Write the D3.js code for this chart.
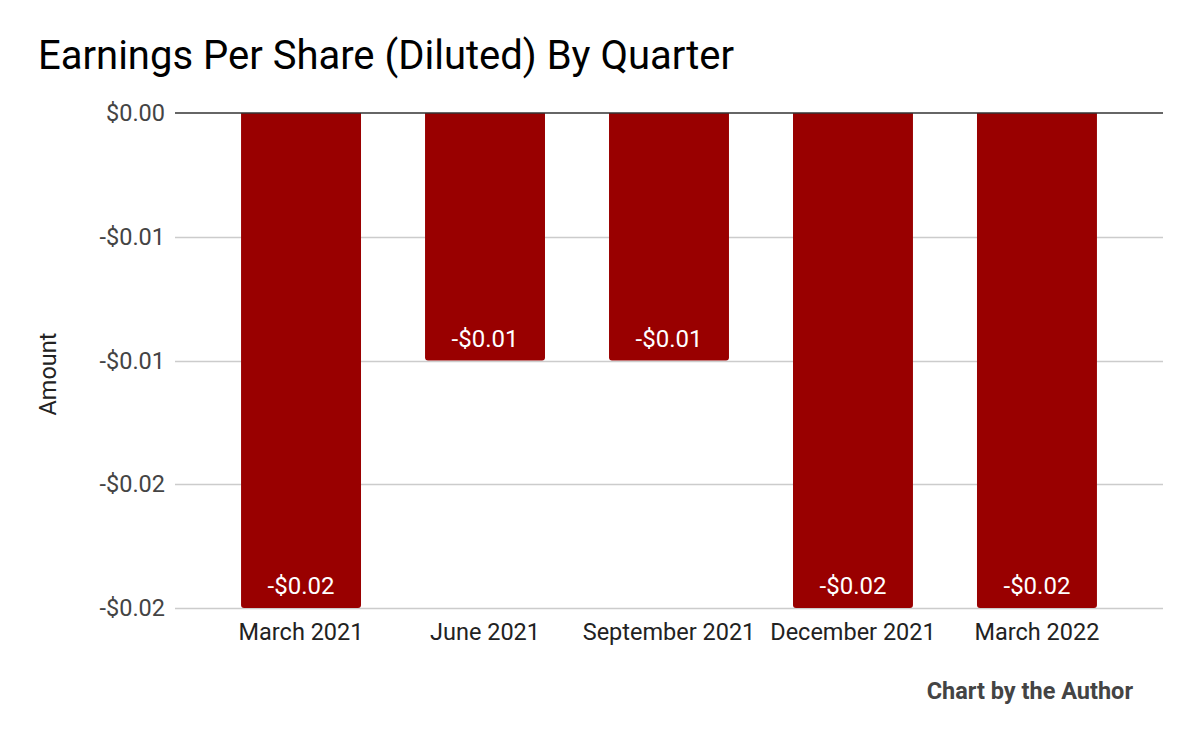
<!DOCTYPE html>
<html><head><meta charset="utf-8">
<script src="https://cdn.jsdelivr.net/npm/d3@7"></script>
<style>body{margin:0;background:#fff}svg{display:block}text{font-family:Roboto,sans-serif}</style>
</head><body>
<svg id="c" width="1200" height="742"></svg>
<script>
const categories = ["March 2021","June 2021","September 2021","December 2021","March 2022"];
const values = [-0.02,-0.01,-0.01,-0.02,-0.02];
const tickValues = [0,-0.005,-0.01,-0.015,-0.02];
const tickLabels = ["$0.00","-$0.01","-$0.01","-$0.02","-$0.02"];
const barLabels = ["-$0.02","-$0.01","-$0.01","-$0.02","-$0.02"];

const svg = d3.select("#c");
const L = 175, R = 1163, T = 113, B = 608;
const x = d3.scaleBand().domain(categories).range([L,R]).paddingInner(0.348).paddingOuter(0.359);
const y = d3.scaleLinear().domain([0,-0.02]).range([T,B]);

svg.append("text").attr("x",38).attr("y",69).attr("font-size",40).attr("fill","#000")
  .text("Earnings Per Share (Diluted) By Quarter");

// grid
svg.append("g").selectAll("line").data(tickValues.slice(1)).join("line")
  .attr("x1",L).attr("x2",R).attr("y1",d=>Math.round(y(d))+0.5).attr("y2",d=>Math.round(y(d))+0.5)
  .attr("stroke","#cccccc").attr("stroke-width",1.5);

// y labels
svg.append("g").selectAll("text").data(tickValues).join("text")
  .attr("x",165).attr("y",d=>y(d)+8).attr("text-anchor","end").attr("font-size",23.5).attr("fill","#444")
  .text((d,i)=>tickLabels[i]);

// bars with rounded bottom corners
const r = 3;
svg.append("g").selectAll("path").data(values).join("path")
  .attr("fill","#990000")
  .attr("d",(d,i)=>{
    const x0 = x(categories[i]), w = x.bandwidth(), y0 = y(0), y1 = y(d);
    return `M${x0},${y0}H${x0+w}V${y1-r}Q${x0+w},${y1} ${x0+w-r},${y1}H${x0+r}Q${x0},${y1} ${x0},${y1-r}Z`;
  });

// bar labels
svg.append("g").selectAll("text").data(values).join("text")
  .attr("x",(d,i)=>x(categories[i])+x.bandwidth()/2).attr("y",d=>y(d)-14)
  .attr("text-anchor","middle").attr("font-size",24).attr("fill","#fff")
  .text((d,i)=>barLabels[i]);

// zero line
svg.append("line").attr("x1",L).attr("x2",R).attr("y1",y(0)).attr("y2",y(0))
  .attr("stroke","#333").attr("stroke-width",1.5);

// x labels
svg.append("g").selectAll("text").data(categories).join("text")
  .attr("x",d=>x(d)+x.bandwidth()/2).attr("y",640).attr("text-anchor","middle")
  .attr("font-size",23.5).attr("fill","#222").text(d=>d);

svg.append("text").attr("transform","translate(56,374) rotate(-90)").attr("text-anchor","middle")
  .attr("font-size",23.5).attr("fill","#222").text("Amount");

svg.append("text").attr("x",1133).attr("y",699).attr("text-anchor","end").attr("font-size",23.5)
  .attr("font-weight","bold").attr("fill","#444").text("Chart by the Author");
</script>
</body></html>
